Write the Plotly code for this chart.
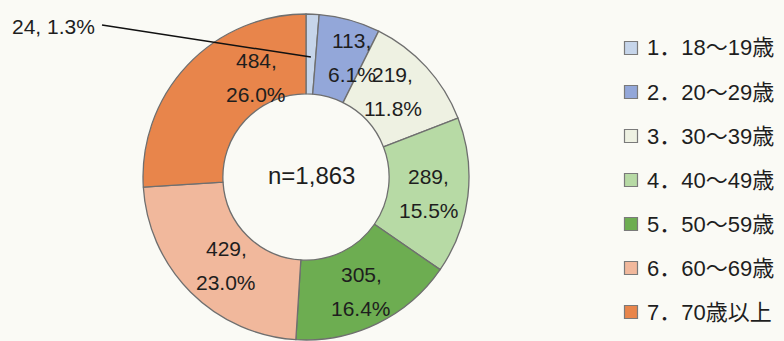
import math
import plotly.graph_objects as go

# Respondents by age group
categories = ["1．18～19歳", "2．20～29歳", "3．30～39歳", "4．40～49歳",
              "5．50～59歳", "6．60～69歳", "7．70歳以上"]
counts = [24, 113, 219, 289, 305, 429, 484]
colors = ["#c6d5ea", "#93a7d9", "#eef1e2", "#b7daa5", "#6dad51", "#f1b89c", "#e8854b"]

total = sum(counts)
shares = [c / total * 100 for c in counts]

W, H = 784, 341
# donut placement (pixels)
CX, CY, R = 306, 177, 163
HOLE = 0.51
BG = "#fafaf5"
TEXT = "#1e1e1e"
EDGE = "#6f6f6f"

# label nudges: (extra angle in degrees, radius in px) for each slice label
label_tweaks = [(0, 120), (5.3, 128), (-2.2, 122), (0.7, 124), (0, 127), (-3, 119), (20, 111)]


def px(x, y):
    return x / W, 1 - y / H


fig = go.Figure()
fig.add_trace(go.Pie(
    labels=categories,
    values=counts,
    sort=False,
    direction="clockwise",
    rotation=0,
    hole=HOLE,
    marker=dict(colors=colors, line=dict(color=EDGE, width=1.3)),
    textinfo="none",
    hoverinfo="label+value+percent",
    showlegend=False,
    domain=dict(x=[(CX - R) / W, (CX + R) / W], y=[1 - (CY + R) / H, 1 - (CY - R) / H]),
))

annotations = []
shapes = []

# slice labels placed around the ring at each slice's middle angle
cum = 0.0
for i, (c, s) in enumerate(zip(counts, shares)):
    mid = (cum + c / 2) / total * 360
    cum += c
    d_ang, r = label_tweaks[i]
    th = math.radians(mid + d_ang)
    lx = CX + r * math.sin(th)
    ly = CY - r * math.cos(th)
    if i == 0:
        # small slice: callout to the left
        x0, y0 = 102, 25
        ax, ay = px(x0, y0)
        bx, by = px(lx, ly)
        shapes.append(dict(type="line", xref="paper", yref="paper", x0=ax, y0=ay, x1=bx, y1=by,
                           line=dict(color="#111111", width=1.5)))
        tx, ty = px(97, 26)
        annotations.append(dict(x=tx, y=ty, xref="paper", yref="paper", xanchor="right",
                                yanchor="middle", showarrow=False,
                                text=f"{c}, {s:.1f}%",
                                font=dict(size=21, color=TEXT, family="Liberation Sans, Arial")))
        continue
    for k, line in enumerate([f"{c},", f"{s:.1f}%"]):
        tx, ty = px(lx, ly + (k - 0.5) * 34)
        annotations.append(dict(x=tx, y=ty, xref="paper", yref="paper", xanchor="center",
                                yanchor="middle", showarrow=False, text=line,
                                font=dict(size=21, color=TEXT, family="Liberation Sans, Arial")))

# total in the hole
tx, ty = px(CX + 5, CY - 2)
annotations.append(dict(x=tx, y=ty, xref="paper", yref="paper", showarrow=False,
                        text=f"n={total:,}",
                        font=dict(size=24, color=TEXT, family="Liberation Sans, Arial")))

# legend on the right
LEG_X, LEG_Y0, LEG_DY, SQ = 631, 48, 44, 13
for i, (name, col) in enumerate(zip(categories, colors)):
    yc = LEG_Y0 + i * LEG_DY
    x0, y0 = px(LEG_X - SQ / 2, yc - SQ / 2)
    x1, y1 = px(LEG_X + SQ / 2, yc + SQ / 2)
    shapes.append(dict(type="rect", xref="paper", yref="paper", x0=x0, y0=y1, x1=x1, y1=y0,
                       fillcolor=col, line=dict(color="#7a7a7a", width=1.2)))
    tx, ty = px(645, yc)
    annotations.append(dict(x=tx, y=ty, xref="paper", yref="paper", xanchor="left",
                            yanchor="middle", showarrow=False, text=name,
                            font=dict(size=22, color=TEXT,
                                      family="Liberation Sans, Noto Sans CJK JP")))

fig.update_layout(
    width=W, height=H,
    margin=dict(l=0, r=0, t=0, b=0),
    paper_bgcolor=BG, plot_bgcolor=BG,
    annotations=annotations,
    shapes=shapes,
)

fig.write_html("out.html")
